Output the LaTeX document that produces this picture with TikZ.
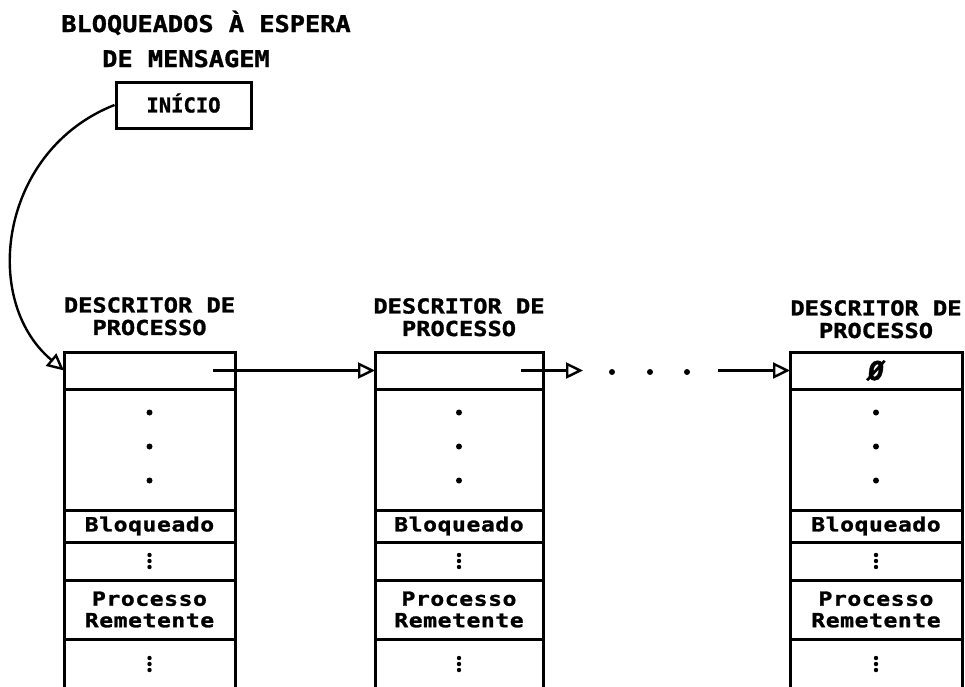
\documentclass[tikz,border=0pt]{standalone}
\usepackage{fontspec}
\usetikzlibrary{arrows.meta,calc}
\newfontfamily\pf[FakeStretch=1.1,FakeBold=1.4]{DejaVu Sans Mono Bold}
\newfontfamily\hf[FakeStretch=1.15,FakeBold=1.4]{DejaVu Sans Mono Bold}
\newfontfamily\stf[FakeBold=1.4]{DejaVu Sans Mono Bold}
\newfontfamily\lf[FakeStretch=1.18,LetterSpace=3,FakeBold=1.4]{DejaVu Sans Mono Bold}
\newfontfamily\of[FakeBold=1.4]{DejaVu Sans Mono Bold Oblique}
\begin{document}
\begin{tikzpicture}[x=1pt,y=-1pt,
  cell/.style={draw, line width=3pt, inner sep=0pt, outer sep=0pt, minimum width=#1},
  opencell/.style={inner sep=0pt, outer sep=0pt, minimum width=#1},
  boxline/.style={line width=3pt},
  lowtext/.style={font=\lf\fontsize{19.5}{21.5}\selectfont, align=center},
  hdr/.style={font=\hf\fontsize{20.6}{22.5}\selectfont, align=center, inner sep=0pt},
  title/.style={font=\pf\fontsize{23}{26}\selectfont, inner sep=0pt},
  startbox/.style={draw, line width=3pt, minimum width=135pt, minimum height=46pt,
    inner sep=0pt, font=\stf\fontsize{20.5}{22}\selectfont, text height=14.9pt, text depth=0pt},
  conn/.style={line width=2.4pt, -{Triangle[open, length=17pt, width=16pt, line width=2.4pt]}},
  bigdot/.style={circle, fill, inner sep=0pt, minimum size=6pt}
]
\useasboundingbox (0,0) rectangle (965,686);

% title
\node[title, anchor=base] (t1) at (206,32) {BLOQUEADOS À ESPERA};
\node[title, anchor=base] (t2) at (186,67) {DE MENSAGEM};
\node[startbox] (start) at (183.5,105) {INÍCIO};

% descriptors
\foreach \n/\cx/\w/\hy in {1/149.5/171/297, 2/459/168/298, 3/876/172/300} {
  \node[cell=\w, minimum height=37pt] (b\n-1) at (\cx,370.5) {};
  \node[cell=\w, minimum height=121pt] (b\n-2) at (\cx,449.5) {};
  \node[cell=\w, minimum height=32pt, lowtext] (b\n-3) at (\cx,526) {Bloqueado};
  \node[cell=\w, minimum height=38pt] (b\n-4) at (\cx,561) {};
  \node[cell=\w, minimum height=59pt, lowtext] (b\n-5) at (\cx,609.5) {Processo\\Remetente};
  \node[opencell=\w, minimum height=50pt] (b\n-6) at (\cx,664) {};
  \draw[boxline] (b\n-6.north west) -- (b\n-6.south west)
                 (b\n-6.north east) -- (b\n-6.south east);
  \foreach \dy in {-37,-3,31}
    \fill ($(b\n-2.center)+(0,\dy)$) circle (3);
  \foreach \dy in {-6,0,6} {
    \fill ($(b\n-4.center)+(0,\dy)$) circle (2.2);
    \fill ($(b\n-6.center)+(0,\dy)$) circle (2.2);
  }
  \node[hdr, anchor=north] (h\n) at (\cx,\hy) {DESCRITOR DE\\PROCESSO};
}
\node[font=\of\fontsize{26}{28}\selectfont, inner sep=0pt] (nil) at (b3-1.center) {Ø};

% links
\coordinate (p1) at (213,370.5);
\coordinate (p2) at (521,370.5);
\coordinate (q2) at (583,370.5);
\coordinate (p3) at (718,370.5);
\draw[conn] (p1) -- (b2-1.west);
\draw[conn] (p2) -- (q2);
\node[bigdot] (d1) at (612,372) {};
\node[bigdot] (d2) at (650,372) {};
\node[bigdot] (d3) at (687,372) {};
\draw[conn] (p3) -- (b3-1.west);

% curve from INICIO
\draw[conn] (start.west) .. controls (0,150) and (-20,300) .. (b1-1.west);
\end{tikzpicture}
\end{document}
